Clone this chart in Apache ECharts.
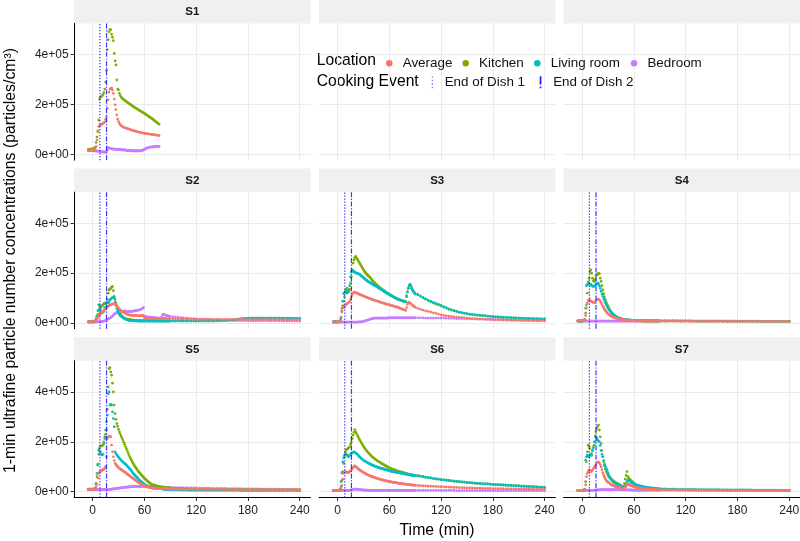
<!DOCTYPE html>
<html><head><meta charset="utf-8">
<script src="https://cdn.jsdelivr.net/npm/echarts@6/dist/echarts.min.js"></script>
<style>html,body{margin:0;padding:0;background:#fff}#c{width:800px;height:541px}</style>
</head><body><div id="c"></div><script>
// ---- sampling grid (minutes) ----
const minutes = [-5,-4,-3,-2,-1,0,1,2,3,4,5,6,7,8,9,10,11,12,13,14,15,16,17,18,19,20,21,22,23,24,25,26,27,28,29,30,31,32,33,34,35,36,37,38,39,40,41,42,43,44,45,46,47,48,49,50,51,52,53,54,55,56,57,58,59,60,61,62,63,64,65,66,67,68,69,70,71,72,73,74,75,76,77,78,79,80,81,82,83,84,85,86,87,88,89,90,93,96,99,102,105,108,111,114,117,120,123,126,129,132,135,138,141,144,147,150,153,156,159,162,165,168,171,174,177,180,183,186,189,192,195,198,201,204,207,210,213,216,219,222,225,228,231,234,237,240];
const xTicks = [0,60,120,180,240];
const yTicks = [0,200,400];            // thousand particles/cm3
const yTickLabels = ['0e+00','2e+05','4e+05'];
const locations = ['Average','Kitchen','Living room','Bedroom'];
const panelNames = ['S1','S2','S3','S4','S5','S6','S7'];
const dish1End = [8.4,8.4,8.4,8.4,8.4,8.4,8.4];
const dish2End = [16.1,16.1,16.1,16.1,16.1,16.1,16.1];

// ---- values in thousand particles/cm3 ----
const S1_kitchen = [20,20,21,20,21,
22,23,25,30,48,70,95,138,222,230,
232,236,240,248,262,290,338,420,460,492,
501,500,482,470,456,405,375,359,299,262,
259,245,236,230,226,223,220,217,215,212,
210,207,205,202,200,197,195,192,190,188,
186,184,181,179,177,175,173,171,169,167,
165,162,160,158,155,153,150,148,146,143,
141,138,135,132,130,127,124,121];
const S1_average = [15,15,16,15,16,
16,16,17,20,32,58,90,112,115,119,
120,122,125,127,130,140,150,185,219,250,
262,265,266,258,245,222,199,180,159,142,
132,125,120,116,113,111,109,108,106,105,
104,103,102,101,100,98,97,96,95,94,
93,92,91,90,89,88,88,87,86,86,
85,84,84,83,83,82,82,81,81,80,
80,79,79,78,78,77,76,76];
const S1_bedroom = [15,14,15,16,15,
15,14,15,14,13,14,12,13,12,11,
10,11,9,10,9,10,11,18,28,27,
25,24,22,23,21,22,20,21,19,20,
21,19,20,18,19,17,18,19,17,16,
16,15,17,15,14,16,15,13,15,14,
14,16,13,15,14,16,15,14,17,18,
20,22,24,26,27,29,28,30,31,29,
32,30,33,31,34,32,30,33];

const S2_kitchen = [5,5,5,6,5,
5,6,7,10,18,27,35,48,58,63,
67,70,72,78,80,76,82,95,120,133,
136,140,144,147,130,107,95,80,68,58,
50,43,37,32,28,25,22,20,18,17,
16,15,14,14,13,13,12,12,12,11,
11,11,11,10,10,10,10,10,10,10,
10,10,10,10,10,10,10,10,10,10,
10,10,10,10,10,10,9,9,9,9,
9,9,9,9,9,9,9,9,9,9,9,
9,9,9,9,9,9,9,9,9,9,
9,9,9,10,10,10,10,10,10,10,
10,11,11,12,13,15,17,18,19,19,
20,20,20,20,20,20,20,20,20,20,
20,20,20,20,20,20,19,19,19,19];
const S2_living = [5,5,5,5,6,
6,6,7,9,15,27,50,73,72,55,
45,42,44,47,62,78,80,82,80,85,
92,96,100,102,104,100,85,70,58,48,
40,34,30,27,24,22,20,18,16,14,
13,12,11,11,10,10,10,9,9,9,
9,9,8,8,8,8,8,8,8,8,
8,8,8,8,8,8,8,8,8,8,
8,8,8,8,8,8,8,8,8,8,
8,8,8,8,8,8,8,8,8,8,8,
8,8,8,8,8,8,8,8,8,8,
8,8,8,8,8,8,8,9,9,9,
10,11,12,13,15,16,17,18,19,19,
20,20,20,20,20,20,20,20,20,20,
20,20,19,19,19,19,19,19,19,18];
const S2_average = [5,5,5,5,5,
5,6,7,9,13,18,23,27,32,36,
40,44,47,51,55,58,62,65,67,70,
72,74,75,76,77,78,77,74,70,65,
60,56,52,49,47,45,43,41,39,37,
35,34,33,32,32,31,31,31,30,30,
30,30,30,29,29,29,29,30,31,30,
22,20,20,19,19,19,18,18,18,18,
18,18,18,18,17,17,17,17,17,17,
18,19,19,18,18,18,17,17,17,17,17,
17,16,16,16,16,16,16,15,15,15,
15,15,15,15,15,15,15,15,15,15,
15,15,15,15,15,15,15,15,14,14,
14,14,14,14,14,14,14,14,14,14,
14,14,14,13,13,13,13,13,13,13];
const S2_bedroom = [4,4,4,4,4,
4,4,4,5,5,5,5,6,6,6,
6,7,7,8,9,10,12,14,16,18,
20,22,25,28,32,35,38,40,42,44,
45,46,47,48,47,46,48,49,48,47,
46,45,47,48,46,45,47,49,48,50,
49,51,50,52,53,54,55,57,60,62,
27,26,25,25,24,24,24,23,23,22,
22,22,21,21,21,20,20,20,20,21,
24,33,36,34,32,31,30,29,28,27,26,
25,24,23,22,21,20,19,18,18,17,
16,16,15,15,14,14,13,13,12,12,
12,11,11,11,10,10,10,10,10,9,
9,9,9,9,9,9,9,9,9,9,
9,9,9,8,8,8,8,8,8,8];

const S3_kitchen = [5,5,5,5,5,
5,6,7,10,20,45,70,88,105,127,
135,140,133,128,135,160,185,213,240,253,
262,267,260,256,250,244,238,232,226,220,
214,209,204,200,196,192,188,185,181,178,
172,168,165,161,158,154,151,148,145,142,
139,137,134,131,129,126,124,121,119,117,
115,113,111,109,107,105,103,101,99,98,
96,94,93,91,90,89,88,87,86,85,
110,125,140,150,155,150,140,132,126,121,117,
115,108,101,96,90,85,80,76,72,68,
64,60,55,52,49,46,43,41,39,37,
35,34,33,32,31,30,29,28,27,26,
25,24,24,23,22,22,21,21,20,20,
19,19,18,18,18,17,17,17,16,16];
const S3_living = [5,5,5,5,5,
5,6,7,9,18,60,87,118,122,125,
127,120,124,126,150,185,205,208,210,207,
203,202,200,199,198,196,194,191,188,185,
182,179,176,173,170,168,166,163,161,159,
157,155,153,151,149,147,145,143,140,138,
136,134,132,129,127,125,123,121,119,117,
114,112,110,108,106,104,102,100,98,97,
95,94,93,92,91,90,89,88,87,86,
105,125,140,150,154,150,141,133,127,122,117,
114,108,102,97,92,87,83,79,75,71,
66,62,57,53,50,47,44,42,40,38,
36,35,33,32,31,30,29,28,27,26,
25,25,24,23,23,22,22,21,21,20,
20,19,19,19,18,18,18,17,17,17];
const S3_average = [4,4,4,4,4,
4,5,5,8,24,50,60,62,64,72,
75,78,80,83,86,95,107,115,121,123,
124,123,121,119,118,116,114,113,111,110,
108,107,105,104,103,101,100,99,97,96,
95,94,92,91,90,89,88,87,86,85,
83,82,81,80,79,78,77,76,75,74,
73,72,71,70,69,68,67,66,65,64,
63,62,60,58,57,56,54,53,52,51,
62,75,82,83,80,77,74,71,68,66,63,
59,55,52,49,47,44,41,39,36,33,
31,29,28,27,25,24,23,22,21,20,
19,18,18,17,16,16,15,15,14,14,
13,13,13,12,12,12,11,11,11,11,
10,10,10,10,10,9,9,9,9,9];
const S3_bedroom = [4,4,4,4,4,
4,4,4,4,4,4,4,4,4,4,
4,4,4,4,4,4,4,4,4,4,
4,4,4,4,4,5,5,5,5,6,
7,8,9,10,11,12,13,14,16,17,
18,19,19,20,20,20,20,20,20,20,
20,20,20,20,20,20,20,20,20,21,
21,21,21,21,21,21,21,21,21,21,
21,21,21,21,21,21,21,21,21,21,
21,21,21,21,21,21,21,21,21,21,21,
21,21,21,20,20,20,20,20,20,20,
20,19,19,19,19,18,18,18,18,17,
17,17,16,16,16,16,15,15,15,15,
14,14,14,14,13,13,13,13,13,12,
12,12,12,12,12,11,11,11,11,11];

const S4_kitchen = [8,8,8,8,8,
8,9,10,15,40,73,120,165,180,205,
213,200,180,170,167,175,190,193,196,200,
198,180,167,150,133,118,105,94,84,75,
67,60,54,48,43,39,35,32,29,27,
25,23,21,19,18,17,16,15,14,14,
13,13,12,12,11,11,11,10,10,10,
10,10,9,9,9,9,9,9,9,9,
8,8,8,8,8,8,8,8,8,8,
8,8,8,8,8,8,8,8,8,8,8,
8,8,8,8,8,8,8,8,8,8,
8,8,8,7,7,7,7,7,7,7,
7,7,7,7,7,7,7,7,7,7,
7,7,7,7,7,7,7,6,6,6,
6,6,6,6,6,6,6,6,6,6];
const S4_living = [8,8,8,8,8,
8,9,10,14,60,150,155,157,158,156,
155,150,148,147,148,150,155,158,160,158,
150,140,128,117,107,97,88,80,72,66,
60,55,50,45,41,37,34,31,29,27,
25,23,21,20,19,18,17,16,15,15,
14,14,13,13,13,12,12,12,12,11,
11,11,11,11,11,10,10,10,10,10,
10,10,10,10,10,10,10,10,10,10,
10,10,10,10,9,9,9,9,9,9,9,
9,9,9,9,9,9,9,9,9,9,
9,9,8,8,8,8,8,8,8,8,
8,8,8,8,8,8,8,8,8,8,
8,8,8,8,8,8,8,8,7,7,
7,7,7,7,7,7,7,7,7,7];
const S4_average = [10,10,10,10,10,
10,10,11,14,30,60,80,90,93,92,
88,86,84,83,82,85,90,93,95,96,
93,88,82,75,67,61,55,50,45,41,
37,34,31,29,27,25,23,22,21,20,
19,18,17,16,15,15,14,14,13,13,
13,12,12,12,12,11,11,11,11,11,
10,10,10,10,10,10,10,10,9,9,
9,9,9,9,9,9,9,9,9,9,
9,9,9,9,9,9,9,9,9,9,9,
9,9,9,9,9,9,9,8,8,8,
8,8,8,8,8,8,8,8,8,8,
8,8,8,8,8,8,8,8,8,8,
7,7,7,7,7,7,7,7,7,7,
7,7,7,7,7,7,7,7,7,7];
const S4_bedroom = [8,8,8,8,8,
8,8,8,8,8,8,8,8,8,8,
8,8,8,8,8,8,8,8,8,8,
8,8,8,8,8,8,8,8,8,8,
8,8,8,8,8,8,8,8,8,8,
8,8,8,8,8,8,8,8,8,8,
8,8,8,8,8,8,8,8,8,8,
8,8,8,8,8,8,8,8,8,8,
8,8,8,8,8,8,8,8,8,8,
8,8,8,8,8,8,8,8,8,8,8,
8,8,8,8,8,8,8,8,8,8,
8,8,8,8,8,8,8,8,8,8,
8,8,8,8,8,7,7,7,7,7,
7,7,7,7,7,7,7,7,7,7,
7,7,7,7,7,7,7,7,7,7];

const S5_kitchen = [10,10,10,10,10,
10,10,11,14,33,60,110,150,175,182,
185,183,188,200,213,230,247,330,420,493,
497,480,467,435,400,347,313,290,273,262,
250,240,232,223,215,207,198,190,181,173,
165,156,148,140,133,126,119,113,107,101,
96,91,86,81,77,73,69,65,61,57,
53,50,47,44,41,38,35,33,30,28,
27,26,25,24,23,22,21,20,20,19,
18,18,17,17,16,16,15,15,15,14,14,
14,13,13,12,12,12,11,11,11,10,
10,10,10,10,10,9,9,9,9,9,
9,9,9,9,9,9,9,9,9,9,
8,8,8,8,8,8,8,8,8,8,
8,8,8,8,8,8,8,8,8,8];
const S5_living = [8,8,8,8,8,
8,8,9,12,30,73,107,167,162,160,
152,147,150,193,220,247,280,307,393,400,
347,350,347,320,293,260,160,153,148,143,
138,134,130,127,123,120,116,113,110,107,
103,99,95,91,87,83,78,73,70,66,
62,58,55,51,47,44,41,38,35,32,
29,27,25,23,21,20,19,18,17,16,
15,15,14,14,14,13,13,13,12,12,
11,11,10,10,9,9,9,8,8,8,7,
7,7,6,6,6,6,5,5,5,5,
5,5,5,5,5,5,5,5,5,5,
5,5,5,5,5,5,4,4,4,4,
4,4,4,4,4,4,4,4,4,4,
4,4,4,4,4,4,4,4,4,4];
const S5_average = [8,8,8,8,8,
8,8,9,12,20,30,55,73,78,80,
83,86,88,90,93,100,140,213,220,223,
222,220,187,160,140,125,113,108,104,100,
96,93,91,88,86,84,81,79,76,73,
71,68,66,63,60,58,55,53,50,47,
45,42,39,37,35,33,31,29,27,25,
23,21,20,19,18,17,16,16,15,15,
14,14,14,13,13,13,13,13,12,12,
12,12,12,12,11,11,11,11,11,11,11,
11,11,10,10,10,10,10,10,10,10,
9,9,9,9,9,9,9,9,9,9,
9,9,9,8,8,8,8,8,8,8,
8,8,8,8,8,8,8,7,7,7,
7,7,7,7,7,7,7,7,7,7];
const S5_bedroom = [8,8,8,8,8,
8,8,8,8,8,8,8,8,8,8,
8,8,8,8,8,8,8,8,8,9,
9,9,10,10,11,11,12,12,13,13,
14,14,15,15,16,16,17,17,18,18,
18,19,19,19,20,20,20,20,20,21,
21,21,21,21,21,21,21,21,21,21,
21,21,21,20,20,20,20,20,20,20,
20,20,19,19,19,19,19,19,18,18,
18,18,18,18,17,17,17,17,17,17,17,
16,16,16,16,16,15,15,15,15,15,
14,14,14,14,14,13,13,13,13,13,
13,12,12,12,12,12,12,11,11,11,
11,11,11,11,10,10,10,10,10,10,
10,10,9,9,9,9,9,9,8,8];

const S6_kitchen = [5,5,5,5,5,
5,5,6,8,20,45,80,113,140,160,
167,170,173,176,180,190,200,213,227,238,
249,240,233,226,219,212,206,200,194,188,
182,177,172,167,163,159,155,151,147,144,
141,138,135,132,129,127,124,122,120,118,
116,113,111,109,107,105,103,101,99,97,
95,94,92,91,89,88,87,86,84,83,
82,81,80,79,78,77,76,75,74,73,
72,71,70,69,69,68,67,66,66,65,64,
64,62,60,58,56,55,53,51,50,48,
47,46,45,43,42,41,40,39,38,37,
36,35,34,33,33,32,31,31,30,29,
28,28,27,27,26,25,25,24,24,23,
22,22,21,21,20,20,19,18,18,17];
const S6_living = [5,5,5,5,5,
5,5,6,9,40,75,120,135,147,150,
151,148,142,140,145,150,153,155,158,160,
158,155,153,150,146,142,138,135,132,129,
126,124,122,120,118,116,114,112,110,108,
107,105,104,102,101,100,98,97,96,95,
94,93,92,91,90,89,88,87,86,85,
84,83,82,81,80,80,79,78,78,77,
76,76,75,74,74,73,72,72,71,70,
70,69,68,68,67,66,66,65,65,64,64,
63,62,60,58,56,55,53,51,50,48,
47,46,45,43,42,41,40,39,38,37,
36,35,34,33,33,32,31,31,30,29,
28,28,27,27,26,25,25,24,24,23,
22,22,21,21,20,20,19,18,18,17];
const S6_average = [5,5,5,5,5,
5,5,6,8,15,25,50,73,78,80,
79,77,76,78,80,83,87,92,97,100,
103,100,97,94,91,88,86,83,81,79,
77,75,73,71,69,67,66,64,63,61,
60,59,58,56,55,54,53,52,51,50,
49,48,47,46,45,44,43,43,42,41,
40,40,39,38,38,37,37,36,36,35,
34,34,33,33,32,32,31,31,30,30,
29,29,28,28,28,27,27,26,26,26,25,
25,24,23,23,22,22,21,21,20,20,
19,19,18,18,17,17,16,16,16,15,
15,15,14,14,14,13,13,13,13,12,
12,12,12,12,11,11,11,11,11,10,
10,10,10,10,10,9,9,9,9,9];
const S6_bedroom = [4,4,4,4,4,
4,4,4,4,4,4,5,5,5,5,
5,5,5,5,5,6,7,8,9,10,
10,10,10,9,9,8,8,7,7,7,
6,6,6,6,6,6,5,5,5,5,
5,5,5,5,5,5,5,5,5,5,
5,5,5,5,5,5,5,5,5,5,
5,5,5,5,5,5,5,5,5,5,
5,5,5,5,5,5,5,5,5,5,
5,5,5,5,5,5,5,5,5,5,5,
5,5,5,5,5,5,5,5,5,5,
5,5,5,5,5,4,4,4,4,4,
4,4,4,4,4,4,4,4,4,4,
4,4,4,4,4,4,4,4,4,4,
4,4,4,4,4,4,4,4,4,4];

const S7_kitchen = [5,5,5,5,5,
5,5,6,10,40,120,160,187,180,173,
150,145,165,180,200,223,240,253,262,267,
247,220,193,165,140,120,103,90,80,72,
65,60,56,52,49,46,43,40,38,36,
34,32,30,28,26,24,22,20,21,33,
50,65,80,60,55,50,47,43,40,37,
33,30,27,25,23,21,20,19,18,17,
16,16,15,15,14,14,13,13,13,12,
12,12,11,11,11,10,10,10,10,9,9,
9,9,8,8,8,8,8,7,7,7,
7,7,7,7,7,7,6,6,6,6,
6,6,6,6,6,6,6,6,6,6,
6,6,6,6,6,5,5,5,5,5,
5,5,5,5,5,5,5,5,5,5];
const S7_living = [5,5,5,5,5,
5,5,6,9,127,140,147,142,140,145,
150,153,165,175,187,200,220,215,207,203,
200,185,165,150,140,125,110,100,93,85,
75,65,58,52,47,43,40,37,34,33,
31,29,27,25,23,22,21,20,20,21,
23,30,40,45,47,44,41,38,36,34,
32,30,28,27,26,25,24,23,22,21,
20,19,19,18,17,17,16,16,15,15,
14,14,14,13,13,13,12,12,12,11,11,
11,11,10,10,10,10,9,9,9,9,
9,9,9,8,8,8,8,8,8,8,
8,8,8,7,7,7,7,7,7,7,
7,7,7,7,7,6,6,6,6,6,
6,6,6,6,6,5,5,5,5,5];
const S7_average = [5,5,5,5,5,
5,5,6,8,27,60,73,80,87,83,
80,83,87,92,97,103,110,116,118,120,
115,108,100,88,76,66,58,51,45,41,
38,36,33,30,28,26,24,23,21,20,
19,18,17,16,15,14,13,12,11,12,
18,23,28,31,30,28,26,24,23,21,
20,19,18,17,16,15,15,14,13,13,
12,12,11,11,10,10,10,9,9,9,
9,9,8,8,8,8,8,8,7,7,7,
7,7,7,7,7,7,6,6,6,6,
6,6,6,6,6,6,6,6,6,6,
6,6,6,5,5,5,5,5,5,5,
5,5,5,5,5,5,5,5,5,5,
5,5,5,5,5,5,5,5,5,5];
const S7_bedroom = [5,5,5,5,5,
5,5,5,5,5,5,5,5,5,5,
5,5,5,5,6,6,6,7,7,7,
7,8,8,8,8,8,8,8,8,8,
8,8,8,8,8,8,8,8,8,8,
8,8,8,8,7,7,7,7,7,7,
7,7,7,7,7,7,7,7,6,6,
6,6,6,6,6,6,6,6,6,6,
6,6,6,6,6,6,6,6,6,6,
6,6,6,6,6,6,6,6,6,6,6,
6,6,6,6,6,6,6,6,6,6,
5,5,5,5,5,5,5,5,5,5,
5,5,5,5,5,5,5,5,5,5,
5,5,5,5,5,5,5,5,5,5,
5,5,5,5,5,5,5,5,5,5];

const panelData = {
  S1:{'Average':S1_average,'Kitchen':S1_kitchen,'Bedroom':S1_bedroom},
  S2:{'Average':S2_average,'Kitchen':S2_kitchen,'Living room':S2_living,'Bedroom':S2_bedroom},
  S3:{'Average':S3_average,'Kitchen':S3_kitchen,'Living room':S3_living,'Bedroom':S3_bedroom},
  S4:{'Average':S4_average,'Kitchen':S4_kitchen,'Living room':S4_living,'Bedroom':S4_bedroom},
  S5:{'Average':S5_average,'Kitchen':S5_kitchen,'Living room':S5_living,'Bedroom':S5_bedroom},
  S6:{'Average':S6_average,'Kitchen':S6_kitchen,'Living room':S6_living,'Bedroom':S6_bedroom},
  S7:{'Average':S7_average,'Kitchen':S7_kitchen,'Living room':S7_living,'Bedroom':S7_bedroom}
};

// ---- layout / style ----
const FONT = '"Liberation Sans", Arial, Helvetica, sans-serif';
const colors = {'Average':'#F8766D','Kitchen':'#7CAE00','Living room':'#00BFC4','Bedroom':'#C77CFF'};
const drawOrder = ['Bedroom','Kitchen','Living room','Average'];
const X_MIN = -21.5, X_MAX = 252.5, Y_MIN = -23, Y_MAX = 525;
const colLeft = [74.1, 319, 563.6], panelW = 236.4;
const rowTop = [0, 168.6, 337.2], stripH = 23.5, panelH = 136.7;
const cells = [
  {name:'S1',r:0,c:0},{name:'',r:0,c:1},{name:'',r:0,c:2},
  {name:'S2',r:1,c:0},{name:'S3',r:1,c:1},{name:'S4',r:1,c:2},
  {name:'S5',r:2,c:0},{name:'S6',r:2,c:1},{name:'S7',r:2,c:2}
];

const grid = [], xAxis = [], yAxis = [], series = [], graphic = [];
cells.forEach((cell, i) => {
  grid.push({left:colLeft[cell.c], top:rowTop[cell.r]+stripH, width:panelW, height:panelH,
             containLabel:false, outerBoundsMode:'none'});
  const bottom = cell.r === 2, left = cell.c === 0;
  xAxis.push({type:'value', gridIndex:i, min:X_MIN, max:X_MAX,
    axisLine:{show:bottom, onZero:false, lineStyle:{color:'#000', width:1}},
    axisTick:{show:bottom, customValues:xTicks, length:3.5, lineStyle:{color:'#333', width:1}},
    axisLabel:{show:bottom, customValues:xTicks, margin:7.5, fontSize:12, color:'#222', fontFamily:FONT},
    splitLine:{show:true, lineStyle:{color:'#ebebeb', width:1}}});
  yAxis.push({type:'value', gridIndex:i, min:Y_MIN, max:Y_MAX,
    axisLine:{show:left, onZero:false, lineStyle:{color:'#000', width:1}},
    axisTick:{show:left, customValues:yTicks, length:3.5, lineStyle:{color:'#333', width:1}},
    axisLabel:{show:left, customValues:yTicks, margin:5.5, fontSize:12, color:'#222', fontFamily:FONT,
      formatter: v => yTickLabels[yTicks.indexOf(v)]},
    splitLine:{show:true, lineStyle:{color:'#ebebeb', width:1}}});
  graphic.push({type:'rect', silent:true, z:-1,
    shape:{x:colLeft[cell.c], y:rowTop[cell.r], width:panelW, height:stripH}, style:{fill:'#f0f0f0'}});
  if (cell.name) {
    graphic.push({type:'text', silent:true, x:colLeft[cell.c]+panelW/2, y:rowTop[cell.r]+stripH/2+0.5,
      style:{text:cell.name, fontSize:11.5, fontWeight:'bold', fontFamily:FONT, fill:'#1a1a1a', align:'center', verticalAlign:'middle'}});
    const p = panelNames.indexOf(cell.name);
    const d = panelData[cell.name];
    drawOrder.forEach(loc => {
      const arr = d[loc];
      if (!arr) return;
      series.push({type:'scatter', name:loc, xAxisIndex:i, yAxisIndex:i,
        data: arr.map((v,k) => [minutes[k], v]),
        symbol:'circle', symbolSize:2.7, itemStyle:{color:colors[loc], opacity:1}, silent:true, z:2});
    });
    series.push({type:'line', name:'End of Dish 1', xAxisIndex:i, yAxisIndex:i,
      data:[[dish1End[p], Y_MIN],[dish1End[p], Y_MAX]], symbol:'none', silent:true, z:5,
      lineStyle:{color:'rgba(10,10,255,0.95)', width:1.1, type:[1.2,1.8]}, itemStyle:{color:'#8080ff', borderWidth:0}});
    series.push({type:'line', name:'End of Dish 2', xAxisIndex:i, yAxisIndex:i,
      data:[[dish2End[p], Y_MIN],[dish2End[p], Y_MAX]], symbol:'none', silent:true, z:5,
      lineStyle:{color:'rgba(20,20,255,0.85)', width:1.2, type:[5,1.6,1.2,1.6]}, itemStyle:{color:'#2020ff', borderWidth:0}});
  }
});

// axis titles and legend titles
graphic.push({type:'text', silent:true, x:11, y:260.5, rotation:Math.PI/2,
  style:{text:'1-min ultrafine particle number concentrations (particles/cm³)', fontSize:15.8, fontFamily:FONT, fill:'#000', align:'center', verticalAlign:'middle'}});
graphic.push({type:'text', silent:true, x:437, y:531,
  style:{text:'Time (min)', fontSize:15.8, fontFamily:FONT, fill:'#000', align:'center', verticalAlign:'middle'}});
graphic.push({type:'text', silent:true, x:316.7, y:60.5,
  style:{text:'Location', fontSize:15.7, fontFamily:FONT, fill:'#000', align:'left', verticalAlign:'middle'}});
graphic.push({type:'text', silent:true, x:316.7, y:82,
  style:{text:'Cooking Event', fontSize:15.7, fontFamily:FONT, fill:'#000', align:'left', verticalAlign:'middle'}});

const legBase = {orient:'horizontal', padding:0, itemGap:0, selectedMode:false};
const locDots = [389.3, 465.7, 537.3, 634];
const legend = locations.map((loc, k) => Object.assign({}, legBase, {
  left: locDots[k]-3.25, top: 60-3.25, itemWidth:6.5, itemHeight:6.5,
  textStyle:{fontFamily:FONT, fontSize:13.4, color:'#111', padding:[0,0,0,5.15]},
  data:[{name:loc, icon:'circle'}]}));
legend.push(Object.assign({}, legBase, {left:432.7-1, top:81.7-6, itemWidth:2, itemHeight:12,
  textStyle:{fontFamily:FONT, fontSize:13.4, color:'#111', padding:[0,0,0,6.3]},
  data:[{name:'End of Dish 1', icon:'path://M0,0h1.3v1.3h-1.3z M0,3.4h1.3v1.3h-1.3z M0,6.8h1.3v1.3h-1.3z M0,10.2h1.3v1.3h-1.3z',
         itemStyle:{color:'#7d7dff', borderWidth:0}}]}));
legend.push(Object.assign({}, legBase, {left:540.7-1, top:81.7-6, itemWidth:2, itemHeight:12,
  textStyle:{fontFamily:FONT, fontSize:13.4, color:'#111', padding:[0,0,0,6.6]},
  data:[{name:'End of Dish 2', icon:'path://M0,0h1.6v8h-1.6z M0,9.9h1.6v1.6h-1.6z',
         itemStyle:{color:'#1a1aff', borderWidth:0}}]}));

const chart = echarts.init(document.getElementById('c'), null, {renderer:'canvas'});
chart.setOption({animation:false, backgroundColor:'#fff', grid, xAxis, yAxis, series, legend, graphic});
</script></body></html>
